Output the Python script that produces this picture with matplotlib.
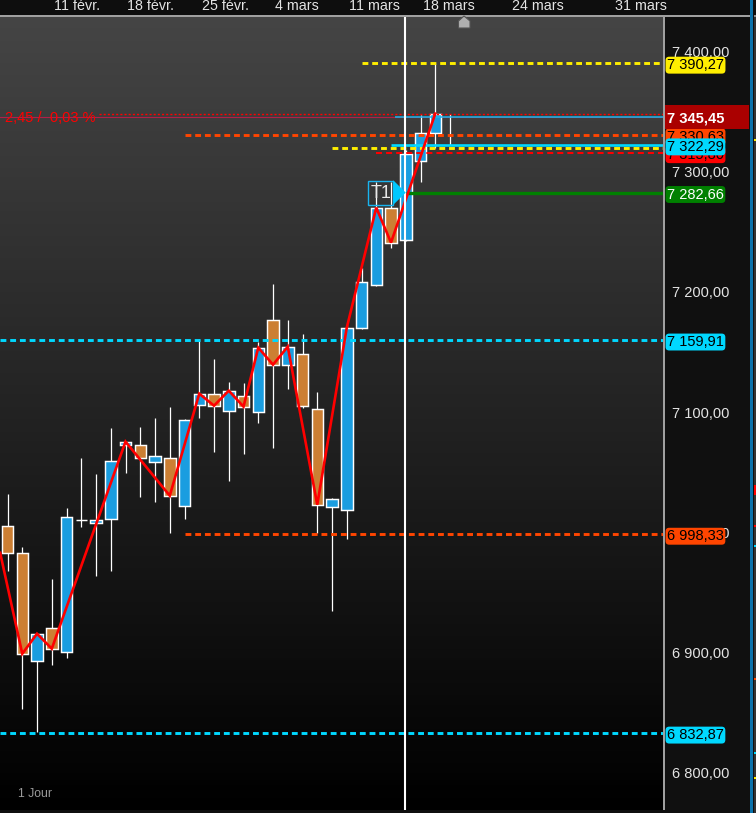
#!/usr/bin/env python3
# coding: utf-8

import numpy as np
import matplotlib
matplotlib.use('Agg')
import matplotlib.pyplot as plt
from matplotlib.patches import Rectangle, Polygon
from matplotlib.ticker import FixedLocator

plt.rcParams['font.family'] = ['Liberation Sans', 'DejaVu Sans']

# --- daily candles
opens = [7005.6, 6983.1, 6893.2, 6920.7, 6900.7, 7010.6, 7008.0, 7011.4, 7073.0, 7073.0, 7058.8,
         7062.2, 7022.2, 7106.3, 7115.4, 7101.3, 7113.7, 7100.4, 7177.0, 7139.5, 7148.7, 7103.0,
         7021.4, 7018.9, 7170.3, 7206.1, 7270.2, 7243.6, 7309.3, 7332.6, 7345.45]
highs = [7032.2, 6988.1, 6915.7, 6961.5, 7020.5, 7062.2, 7048.8, 7087.1, 7075.5, 7087.9, 7095.4,
         7104.6, 7094.6, 7161.2, 7144.5, 7125.4, 7124.6, 7158.7, 7206.9, 7177.0, 7165.3, 7117.1,
         7028.9, 7172.8, 7220.2, 7291.8, 7291.8, 7318.4, 7347.6, 7390.27, 7348.4]
lows = [6968.1, 6853.3, 6834.1, 6889.9, 6895.7, 7004.7, 6964.0, 6968.1, 7049.7, 7029.7, 7025.5,
        6999.7, 7011.4, 7095.4, 7067.1, 7043.0, 7065.5, 7091.3, 7070.5, 7119.6, 7103.8, 6999.7,
        6934.8, 6994.7, 7169.5, 7205.3, 7236.9, 7242.7, 7291.8, 7320.1, 7322.6]
closes = [6983.1, 6899.0, 6915.7, 6903.2, 7013.0, 7010.6, 7010.6, 7059.7, 7075.5, 7062.2, 7063.8,
          7030.5, 7093.8, 7115.4, 7105.4, 7117.9, 7104.6, 7153.7, 7139.5, 7154.5, 7105.4, 7023.0,
          7028.0, 7170.3, 7208.6, 7270.2, 7241.1, 7315.1, 7332.6, 7348.4, 7345.45]

# --- red zigzag pivots
zig_x = [-0.5, 1, 2, 3, 8, 11, 13, 14, 15, 16, 17, 18, 19, 21, 23, 25, 26, 29]
zig_y = [6983.0, 6899.0, 6915.7, 6903.2, 7075.5, 7030.5, 7115.4, 7105.4, 7117.9, 7104.6, 7153.7,
         7139.5, 7154.5, 7023.0, 7170.3, 7270.2, 7241.1, 7348.4]

# --- horizontal levels
level_names = ['r1', 'orange_hi', 'cyan_solid', 'yellow_lo', 'red_lo', 'green', 'cyan_mid', 'orange_lo', 'cyan_lo', 'yellow_hi']
level_vals = [7347.9, 7330.63, 7322.29, 7319.4, 7315.80, 7282.66, 7159.91, 6998.33, 6832.87, 7390.27]
level_start = [6.2, 12, 26, 22, 25, 27, -0.5, 12, -0.5, 24]
level_cols = ['#ff0000', '#ff4500', '#00d8ff', '#ffee00', '#ff0000', '#008000', '#00d8ff', '#ff4500', '#00d8ff', '#ffee00']
last_price = 7345.45

# --- axis texts
y_ticks = [6800, 6900, 7000, 7100, 7200, 7300, 7400]
y_tick_labels = ['6 800,00', '6 900,00', '7 000,00', '7 100,00', '7 200,00', '7 300,00', '7 400,00']
x_ticks = [4.7, 9.7, 14.75, 19.65, 24.85, 29.9, 35.95, 42.95]
x_tick_labels = ['11 févr.', '18 févr.', '25 févr.', '4 mars', '11 mars', '18 mars', '24 mars', '31 mars']

W, H = 756, 813
y_lim = (6769.0, 7428.8)
x_lim = (-0.51, 44.44)

fig = plt.figure(figsize=(W / 100, H / 100), dpi=100, facecolor='#0e0e0e')


def px_axes(x0, y0, x1, y1):
    return fig.add_axes([x0 / W, 1 - y1 / H, (x1 - x0) / W, (y1 - y0) / H])


def px_rect(x0, y0, x1, y1, col, zorder=5):
    fig.add_artist(Rectangle((x0 / W, 1 - y1 / H), (x1 - x0) / W, (y1 - y0) / H,
                             transform=fig.transFigure, facecolor=col, edgecolor='none', zorder=zorder))


# --- right price panel (tick labels sit below the level tags)
ax_r = px_axes(664, 17, 750, 810)
ax_r.set_facecolor('#101010')
ax_r.set_ylim(y_lim)
ax_r.set_xlim(0, 86)
ax_r.set_xticks([])
ax_r.yaxis.set_major_locator(FixedLocator(y_ticks))
ax_r.set_yticklabels(y_tick_labels)
ax_r.tick_params(axis='y', length=0, pad=-5.6, labelsize=10.5, labelcolor='#e4e4e4')
for lab in ax_r.get_yticklabels():
    lab.set_ha('left')
for sp in ax_r.spines.values():
    sp.set_visible(False)

# --- main chart
ax = px_axes(0, 17, 663, 810)
ax.set_xlim(x_lim)
ax.set_ylim(y_lim)
for sp in ax.spines.values():
    sp.set_visible(False)
ax.imshow(np.linspace(0, 1, 256).reshape(-1, 1), extent=(0, 1, 0, 1), transform=ax.transAxes,
          cmap=matplotlib.colors.LinearSegmentedColormap.from_list('bg', ['#454545', '#000000']),
          aspect='auto', zorder=0)
ax.set_xlim(x_lim)
ax.set_ylim(y_lim)
ax.set_yticks([])
ax.xaxis.tick_top()
ax.set_xticks(x_ticks)
ax.set_xticklabels(x_tick_labels)
ax.tick_params(axis='x', length=0, pad=3, labelsize=10.3, labelcolor='#e4e4e4')

# thin line at the last price, the 2,45 text sits on it
ax.axhline(last_price, color='#b02048', lw=0.8, zorder=2)
ax.hlines(last_price, 26.3, x_lim[1], color='#18b8f0', lw=1.1, zorder=5)
ax.text(-0.2, 7344.6, '2,45 /  0,03 %', color='#ff0000', fontsize=10.5, va='center', ha='left', zorder=3)

# levels
dash_styles = {'r1': (0, (1.5, 1.5)), 'red_lo': (0, (3, 2)), 'orange_hi': (0, (2, 1.33)),
               'orange_lo': (0, (2, 1.33)), 'yellow_lo': (0, (2, 1.33)), 'yellow_hi': (0, (2, 1.33)),
               'cyan_mid': (0, (2, 1.33)), 'cyan_lo': (0, (2, 1.33))}
level_lw = {'r1': 1.0, 'red_lo': 1.45, 'cyan_solid': 1.9, 'green': 2.4}
for name, val, st, col in zip(level_names, level_vals, level_start, level_cols):
    ls = dash_styles.get(name, '-')
    ax.plot([st, x_lim[1]], [val, val], color=col, lw=level_lw.get(name, 2.1), ls=ls,
            dash_capstyle='butt', solid_capstyle='butt', zorder=6)

# candles, the last one only shows its wick
idx = np.arange(len(opens))
o = np.array(opens)
c = np.array(closes)
ax.vlines(idx, lows, highs, color='white', lw=0.9, zorder=3)
cols = ['#1a9de0' if cc >= oo else '#cc7f33' for oo, cc in zip(opens, closes)]
ax.bar(idx[:-1], np.abs(c - o)[:-1], bottom=np.minimum(o, c)[:-1], width=0.78, color=cols[:-1],
       edgecolor='white', linewidth=1.05, zorder=4)

# zigzag
ax.plot(zig_x, zig_y, color='#ff0000', lw=1.9, zorder=7, solid_joinstyle='miter')

# current bar cursor
ax.axvline(26.95, color='white', lw=1.5, zorder=8)

# T1 tag with its arrow
ax.add_patch(Rectangle((24.44, 7272.6), 1.71, 20, facecolor='none', edgecolor='#18b4f0', lw=1.0, zorder=9))
ax.text(25.3, 7282.2, 'T1', color='#e8e8e8', fontsize=13, ha='center', va='center', zorder=9)
ax.add_patch(Polygon([(26.15, 7293), (26.15, 7272.5), (27, 7282.66)], closed=True, facecolor='#00c8ff',
                     edgecolor='none', zorder=9))

ax.text(0.7, 6782, '1 Jour', color='#9a9a9a', fontsize=8.8, va='center', ha='left', zorder=9)

# level tags in the right panel
tag_vals = [7390.27, 7330.63, 7315.80, 7322.29, 7282.66, 7159.91, 6998.33, 6832.87]
tag_bg = ['#ffee00', '#ff4500', '#ff0000', '#00d8ff', '#008000', '#00d8ff', '#ff4500', '#00d8ff']
tag_fg = ['black', 'black', 'black', 'black', 'white', 'black', 'black', 'black']
tag_txt = ['7 390,27', '7 330,63', '7 315,80', '7 322,29', '7 282,66', '7 159,91', '6 998,33', '6 832,87']
for val, bg, fg, txt in zip(tag_vals, tag_bg, tag_fg, tag_txt):
    ax_r.text(3.0, val - 0.3, txt, color=fg, fontsize=10.5, va='center_baseline', ha='left', zorder=5,
              bbox=dict(boxstyle='round,pad=0.1,rounding_size=0.25', facecolor=bg, edgecolor='none'))
ax_r.add_patch(Rectangle((0, last_price - 9.6), 85.5, 20, facecolor='#aa0000', edgecolor='none', zorder=6))
ax_r.text(3.0, last_price, '7 345,45', color='white', fontsize=10.6, fontweight='bold', va='center_baseline',
          ha='left', zorder=7)

# frame lines
px_rect(0, 15, 749.5, 17, '#a0a0a0')
px_rect(663, 16, 665, 810, '#a0a0a0')
px_rect(752.5, 17, 756, 813, '#101010', zorder=4)
px_rect(754, 17, 756, 813, '#333333', zorder=4)
px_rect(749.5, 0, 752.5, 813, '#0b72ab', zorder=6)
px_rect(754, 15, 756, 17, '#8c8c8c')
px_rect(754, 485, 756, 495, '#ff0000')
for yy, col in zip([140, 526, 546, 679, 753, 778], ['#ffee00', '#ff0000', '#00d8ff', '#ff4500', '#00d8ff', '#ffee00']):
    px_rect(754, yy - 1, 756, yy + 1, col)

# home marker
fig.add_artist(Polygon([(458.5 / W, 1 - 28 / H), (458.5 / W, 1 - 21 / H), (464 / W, 1 - 16 / H),
                        (470 / W, 1 - 21 / H), (470 / W, 1 - 28 / H)], closed=True, transform=fig.transFigure,
                       facecolor='#b0b0b0', edgecolor='#555555', lw=0.8, zorder=7))

fig.savefig('out.png', dpi=100, facecolor=fig.get_facecolor())
